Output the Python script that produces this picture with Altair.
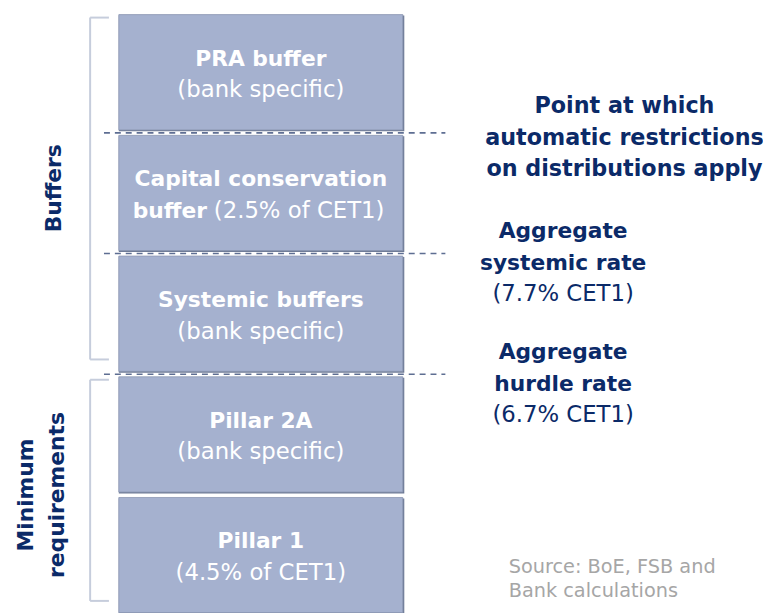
import altair as alt
import pandas as pd

# ---- data ----
block_titles = ["Pillar 1", "Pillar 2A", "Systemic buffers", "Capital conservation", "PRA buffer"]
block_prefix = ["", "", "", "buffer", ""]
block_notes = ["(4.5% of CET1)", "(bank specific)", "(bank specific)", "(2.5% of CET1)", "(bank specific)"]
block_sizes = [1, 1, 1, 1, 1]

threshold_levels = [2, 3, 4]
threshold_bold = ["Aggregate\nhurdle rate", "Aggregate\nsystemic rate",
                  "Point at which\nautomatic restrictions\non distributions apply"]
threshold_note = ["(6.7% CET1)", "(7.7% CET1)", ""]

group_names = ["Minimum\nrequirements", "Buffers"]
group_start = [0, 2]
group_end = [2, 5]

source_text = "Source: BoE, FSB and\nBank calculations"

# ---- tables ----
ends = pd.Series(block_sizes).cumsum()
blocks = pd.DataFrame({
    "title": block_titles, "prefix": block_prefix, "note": block_notes,
    "start": ends - pd.Series(block_sizes), "end": ends,
})
blocks["mid"] = (blocks["start"] + blocks["end"]) / 2
thr = pd.DataFrame({"level": threshold_levels, "bold": threshold_bold, "note": threshold_note,
                    "kind": ["hurdle", "systemic", "restrict"]})
groups = pd.DataFrame({"name": group_names, "start": group_start, "end": group_end})
groups["mid"] = (groups["start"] + groups["end"]) / 2

NAVY = "#0B2A68"
FILL = "#A5B1CF"
FONT = "DejaVu Sans"
yscale = alt.Scale(domain=[0.049, 5.008], nice=False, zero=False)
Y = lambda f: alt.Y(f, scale=yscale, axis=None)

X0, X1 = 112, 399
XC = (X0 + X1) / 2

bb = alt.Chart(blocks)
shadow = bb.mark_rect(fill="#6E7A95", yOffset=3.5, y2Offset=-1.5).encode(
    y=Y("end:Q"), y2="start:Q", x=alt.value(X0), x2=alt.value(X1 + 1.5))
rects = bb.mark_rect(fill=FILL, stroke="#8C97B2", strokeWidth=0.8, yOffset=2.5, y2Offset=-3).encode(
    y=Y("end:Q"), y2="start:Q", x=alt.value(X0), x2=alt.value(X1))
titles = bb.mark_text(font=FONT, fontSize=22, fontWeight="bold", color="white", dy=-14).encode(
    y=Y("mid:Q"), x=alt.value(XC), text="title:N")
notes_c = bb.transform_filter("datum.prefix == ''").mark_text(
    font=FONT, fontSize=23, color="white", dy=18).encode(y=Y("mid:Q"), x=alt.value(XC), text="note:N")
pref = bb.transform_filter("datum.prefix != ''").mark_text(
    font=FONT, fontSize=22, fontWeight="bold", color="white", dy=18, align="right").encode(
    y=Y("mid:Q"), x=alt.value(201), text="prefix:N")
notes_l = bb.transform_filter("datum.prefix != ''").mark_text(
    font=FONT, fontSize=23, color="white", dy=18, align="left").encode(
    y=Y("mid:Q"), x=alt.value(208), text="note:N")

tb = alt.Chart(thr)
dashes = tb.mark_rule(color="#5E6E92", strokeWidth=1.6, strokeDash=[6, 5]).encode(
    y=Y("level:Q"), x=alt.value(97), x2=alt.value(442))
restrict = tb.transform_filter("datum.kind == 'restrict'").mark_text(
    font=FONT, fontSize=22.5, fontWeight="bold", color=NAVY, lineBreak="\n", lineHeight=32,
    baseline="middle", dy=-27).encode(y=Y("level:Q"), x=alt.value(623), text="bold:N")
agg_bold = tb.transform_filter("datum.kind != 'restrict'").mark_text(
    font=FONT, fontSize=22, fontWeight="bold", color=NAVY, lineBreak="\n", lineHeight=32,
    baseline="middle", dy=-22.5).encode(y=Y("level:Q"), x=alt.value(561), text="bold:N")
agg_note = tb.transform_filter("datum.kind != 'restrict'").mark_text(
    font=FONT, fontSize=23, color=NAVY, baseline="middle", dy=41).encode(
    y=Y("level:Q"), x=alt.value(561), text="note:N")

gb = alt.Chart(groups)
BR = "#C6CDDC"
vbar = gb.mark_rule(color=BR, strokeWidth=2, yOffset=5.5, y2Offset=-15).encode(
    y=Y("end:Q"), y2="start:Q", x=alt.value(83))
ttop = gb.mark_rule(color=BR, strokeWidth=2, yOffset=5.5).encode(
    y=Y("end:Q"), x=alt.value(83), x2=alt.value(102))
tbot = gb.mark_rule(color=BR, strokeWidth=2, yOffset=-15).encode(
    y=Y("start:Q"), x=alt.value(83), x2=alt.value(102))
glab_buf = gb.transform_filter("datum.name == 'Buffers'").mark_text(
    font=FONT, fontSize=22, fontWeight="bold", color=NAVY, angle=270, baseline="middle",
    dy=0).encode(y=Y("mid:Q"), x=alt.value(47), text="name:N", yOffset=alt.value(-5))
glab_min = gb.transform_filter("datum.name != 'Buffers'").mark_text(
    font=FONT, fontSize=22, fontWeight="bold", color=NAVY, angle=270, baseline="middle",
    lineBreak="\n", lineHeight=32).encode(y=Y("mid:Q"), x=alt.value(18), text="name:N")

src = alt.Chart(pd.DataFrame({"t": [source_text]})).mark_text(
    font=FONT, fontSize=19.5, color="#A6A6A6", align="left", baseline="middle",
    lineBreak="\n", lineHeight=24).encode(x=alt.value(506), y=alt.value(562), text="t:N")

chart = alt.layer(
    shadow, rects, dashes, titles, notes_c, pref, notes_l,
    restrict, agg_bold, agg_note,
    vbar, ttop, tbot, glab_buf, glab_min, src,
).properties(width=763, height=605, padding=0, autosize="none", background="white"
).configure_view(stroke=None)

chart.save("out.html", embed_options={"renderer": "svg", "actions": False})
